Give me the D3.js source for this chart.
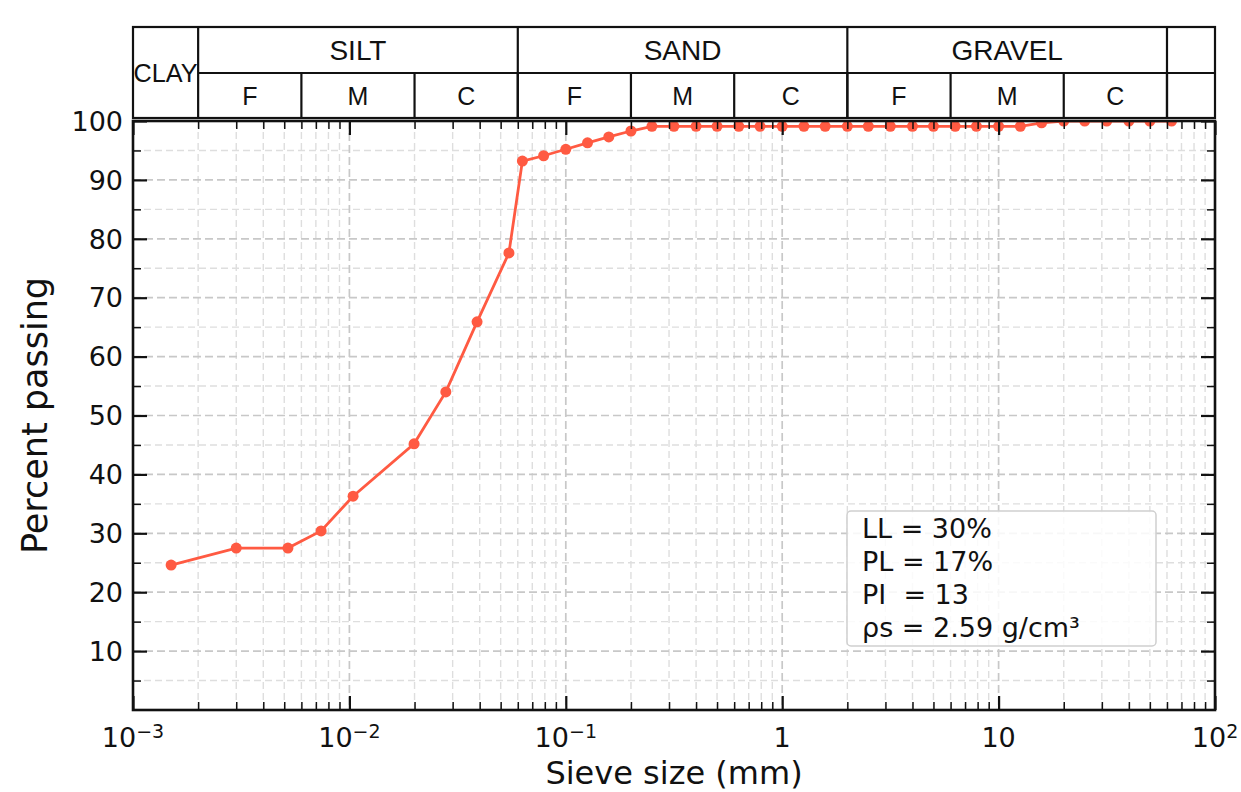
<!DOCTYPE html>
<html>
<head>
<meta charset="utf-8">
<script src="https://cdn.jsdelivr.net/npm/d3@7"></script>
<style>
	body { margin: 0; background: #fff; }
	svg { display: block; }
	text { font-family: "DejaVu Sans", sans-serif; fill: #111; }
	.hdr text { font-family: "Liberation Sans", Arial, sans-serif; }
</style>
</head>
<body>
<svg id="chart" width="1241" height="792"></svg>
<script>
// grain size distribution
const sieveSizes = [0.0015, 0.003, 0.0052, 0.0074, 0.0104, 0.0199, 0.0279, 0.0389, 0.0546,
	0.063, 0.079, 0.1, 0.126, 0.158, 0.2, 0.25, 0.316, 0.4, 0.5, 0.63, 0.79, 1, 1.26, 1.58,
	2, 2.5, 3.16, 4, 5, 6.3, 7.9, 10, 12.6, 15.8, 20, 25, 31.6, 40, 50, 63];
const percentPassing = [24.6, 27.5, 27.5, 30.4, 36.3, 45.2, 54.0, 65.9, 77.6,
	93.2, 94.1, 95.2, 96.3, 97.3, 98.3, 99.1, 99.1, 99.1, 99.1, 99.1, 99.1, 99.1, 99.1, 99.1,
	99.1, 99.1, 99.1, 99.1, 99.1, 99.1, 99.1, 99.1, 99.1, 99.7, 100, 100, 100, 100, 100, 100];

// soil classes for the header
const mainLabels = ["CLAY", "SILT", "SAND", "GRAVEL", ""];
const mainEdges = [0.001, 0.002, 0.06, 2, 60, 100];
const subLabels = ["F", "M", "C", "F", "M", "C", "F", "M", "C", ""];
const subEdges = [0.002, 0.006, 0.02, 0.06, 0.2, 0.6, 2, 6, 20, 60, 100];

// axes
const yTicks = [10, 20, 30, 40, 50, 60, 70, 80, 90, 100];
const yMinorTicks = [5, 15, 25, 35, 45, 55, 65, 75, 85, 95];
const xTicks = [0.001, 0.01, 0.1, 1, 10, 100];
const xTickBase = ["10", "10", "10", "1", "10", "10"];
const xTickExp = ["\u22123", "\u22122", "\u22121", "", "", "2"];

const legendLines = ["LL = 30%", "PL = 17%", "PI  = 13", "\u03C1s = 2.59 g/cm\u00B3"];

const plot = { left: 133, right: 1215, top: 121, bottom: 710 };
const hdr = { top: 27, mid: 73, bottom: 118 };

const svg = d3.select("#chart");

const x = d3.scaleLog().domain([1e-3, 1e2]).range([plot.left, plot.right]);
const y = d3.scaleLinear().domain([0, 100]).range([plot.bottom, plot.top]);

const xMinor = [];
for (let e = -3; e < 2; e++) {
	for (let m = 2; m <= 9; m++) xMinor.push(m * Math.pow(10, e));
}

function drawGrid() {
	const g = svg.append("g").attr("class", "grid");
	// minor first, major over it
	g.selectAll(".vmin").data(xMinor).enter().append("line")
		.attr("x1", d => x(d)).attr("x2", d => x(d))
		.attr("y1", plot.top).attr("y2", plot.bottom)
		.attr("stroke", "#dedede").attr("stroke-width", 1.4).attr("stroke-dasharray", "7,4");
	g.selectAll(".hmin").data(yMinorTicks).enter().append("line")
		.attr("x1", plot.left).attr("x2", plot.right)
		.attr("y1", d => y(d)).attr("y2", d => y(d))
		.attr("stroke", "#dedede").attr("stroke-width", 1.4).attr("stroke-dasharray", "7,4");
	g.selectAll(".vmaj").data(xTicks.slice(1, -1)).enter().append("line")
		.attr("x1", d => x(d)).attr("x2", d => x(d))
		.attr("y1", plot.top).attr("y2", plot.bottom)
		.attr("stroke", "#c8c8c8").attr("stroke-width", 1.7).attr("stroke-dasharray", "8,4");
	g.selectAll(".hmaj").data(yTicks.slice(0, -1)).enter().append("line")
		.attr("x1", plot.left).attr("x2", plot.right)
		.attr("y1", d => y(d)).attr("y2", d => y(d))
		.attr("stroke", "#c8c8c8").attr("stroke-width", 1.7).attr("stroke-dasharray", "8,4");
}

function drawData() {
	svg.append("clipPath").attr("id", "clip")
		.append("rect")
		.attr("x", plot.left).attr("y", plot.top)
		.attr("width", plot.right - plot.left).attr("height", plot.bottom - plot.top);

	const pts = sieveSizes.map((s, i) => ({ s: s, p: percentPassing[i] }));
	const g = svg.append("g").attr("clip-path", "url(#clip)");

	const line = d3.line().x(d => x(d.s)).y(d => y(d.p));
	g.append("path")
		.datum(pts)
		.attr("d", line)
		.attr("fill", "none")
		.attr("stroke", "#ff5a42")
		.attr("stroke-width", 2.8);

	g.selectAll("circle")
		.data(pts)
		.enter()
		.append("circle")
		.attr("cx", d => x(d.s))
		.attr("cy", d => y(d.p))
		.attr("r", 5.5)
		.attr("fill", "#ff5a42");
}

function drawAxes() {
	const inner = 14, innerMinor = 8;
	const clean = g => {
		g.select(".domain").remove();
		g.selectAll("text").remove();
		g.selectAll("line").attr("stroke", "#111");
	};

	// bottom + top
	svg.append("g").attr("transform", `translate(0,${plot.bottom})`)
		.call(d3.axisBottom(x).tickValues(xTicks).tickSize(-inner)).call(clean)
		.selectAll("line").attr("stroke-width", 2.2);
	svg.append("g").attr("transform", `translate(0,${plot.bottom})`)
		.call(d3.axisBottom(x).tickValues(xMinor).tickSize(-innerMinor)).call(clean)
		.selectAll("line").attr("stroke-width", 1.5);
	svg.append("g").attr("transform", `translate(0,${plot.top})`)
		.call(d3.axisTop(x).tickValues(xTicks).tickSize(-inner)).call(clean)
		.selectAll("line").attr("stroke-width", 2.2);
	svg.append("g").attr("transform", `translate(0,${plot.top})`)
		.call(d3.axisTop(x).tickValues(xMinor).tickSize(-innerMinor)).call(clean)
		.selectAll("line").attr("stroke-width", 1.5);

	// left + right
	svg.append("g").attr("transform", `translate(${plot.left},0)`)
		.call(d3.axisLeft(y).tickValues(yTicks).tickSize(-inner)).call(clean)
		.selectAll("line").attr("stroke-width", 2.2);
	svg.append("g").attr("transform", `translate(${plot.left},0)`)
		.call(d3.axisLeft(y).tickValues(yMinorTicks).tickSize(-innerMinor)).call(clean)
		.selectAll("line").attr("stroke-width", 1.5);
	svg.append("g").attr("transform", `translate(${plot.right},0)`)
		.call(d3.axisRight(y).tickValues(yTicks).tickSize(-inner)).call(clean)
		.selectAll("line").attr("stroke-width", 2.2);
	svg.append("g").attr("transform", `translate(${plot.right},0)`)
		.call(d3.axisRight(y).tickValues(yMinorTicks).tickSize(-innerMinor)).call(clean)
		.selectAll("line").attr("stroke-width", 1.5);

	// frame
	svg.append("rect")
		.attr("x", plot.left).attr("y", plot.top)
		.attr("width", plot.right - plot.left).attr("height", plot.bottom - plot.top)
		.attr("fill", "none").attr("stroke", "#111").attr("stroke-width", 2.6);

	// y tick labels
	svg.append("g").selectAll("text")
		.data(yTicks)
		.enter()
		.append("text")
		.attr("x", plot.left - 10)
		.attr("y", d => y(d))
		.attr("dy", "0.36em")
		.attr("text-anchor", "end")
		.style("font-size", "27px")
		.text(d => d);

	// x tick labels with superscripts
	const xl = svg.append("g").selectAll("text")
		.data(xTicks)
		.enter()
		.append("text")
		.attr("x", d => x(d))
		.attr("y", plot.bottom + 37)
		.attr("text-anchor", "middle")
		.style("font-size", "27px");
	xl.append("tspan").text((d, i) => xTickBase[i]);
	xl.append("tspan")
		.attr("dy", "-0.45em")
		.style("font-size", "19px")
		.text((d, i) => xTickExp[i]);

	// axis titles
	svg.append("text")
		.attr("x", (plot.left + plot.right) / 2)
		.attr("y", 784)
		.attr("text-anchor", "middle")
		.style("font-size", "32px")
		.text("Sieve size (mm)");

	svg.append("text")
		.attr("transform", `translate(47,${(plot.top + plot.bottom) / 2}) rotate(-90)`)
		.attr("text-anchor", "middle")
		.style("font-size", "35px")
		.text("Percent passing");
}

function drawHeader() {
	const g = svg.append("g").attr("class", "hdr");
	const stroke = "#111", sw = 2.2;

	g.append("rect")
		.attr("x", plot.left).attr("y", hdr.top)
		.attr("width", plot.right - plot.left).attr("height", hdr.bottom - hdr.top)
		.attr("fill", "none").attr("stroke", stroke).attr("stroke-width", sw);

	// horizontal split right of clay
	g.append("line")
		.attr("x1", x(mainEdges[1])).attr("x2", plot.right)
		.attr("y1", hdr.mid).attr("y2", hdr.mid)
		.attr("stroke", stroke).attr("stroke-width", sw);

	// full height separators between main classes
	g.selectAll(".mainsep").data(mainEdges.slice(1, -1)).enter().append("line")
		.attr("x1", d => x(d)).attr("x2", d => x(d))
		.attr("y1", hdr.top).attr("y2", hdr.bottom)
		.attr("stroke", stroke).attr("stroke-width", sw);

	// lower row separators
	g.selectAll(".subsep").data(subEdges.slice(1, -1)).enter().append("line")
		.attr("x1", d => x(d)).attr("x2", d => x(d))
		.attr("y1", hdr.mid).attr("y2", hdr.bottom)
		.attr("stroke", stroke).attr("stroke-width", sw);

	// main labels (clay spans both rows)
	g.selectAll(".mainlbl").data(mainLabels).enter().append("text")
		.attr("x", (d, i) => (x(mainEdges[i]) + x(mainEdges[i + 1])) / 2)
		.attr("y", (d, i) => i === 0 ? (hdr.top + hdr.bottom) / 2 : (hdr.top + hdr.mid) / 2)
		.attr("dy", "0.36em")
		.attr("text-anchor", "middle")
		.attr("textLength", (d, i) => i === 0 ? 64 : null)
		.attr("lengthAdjust", "spacingAndGlyphs")
		.style("font-size", (d, i) => i === 0 ? "25px" : "28px")
		.text(d => d);

	g.selectAll(".sublbl").data(subLabels).enter().append("text")
		.attr("x", (d, i) => (x(subEdges[i]) + x(subEdges[i + 1])) / 2)
		.attr("y", (hdr.mid + hdr.bottom) / 2)
		.attr("dy", "0.36em")
		.attr("text-anchor", "middle")
		.style("font-size", "25px")
		.text(d => d);
}

function drawLegend() {
	const g = svg.append("g");
	g.append("rect")
		.attr("x", 847).attr("y", 511)
		.attr("width", 309).attr("height", 135)
		.attr("rx", 4)
		.attr("fill", "#fff").attr("fill-opacity", 0.85)
		.attr("stroke", "#cfcfcf").attr("stroke-width", 1.5);
	g.selectAll("text")
		.data(legendLines)
		.enter()
		.append("text")
		.attr("x", 862)
		.attr("y", (d, i) => 538 + i * 33)
		.attr("xml:space", "preserve")
		.style("white-space", "pre")
		.style("font-size", "27px")
		.text(d => d);
}

drawGrid();
drawData();
drawLegend();
drawAxes();
drawHeader();
</script>
</body>
</html>
